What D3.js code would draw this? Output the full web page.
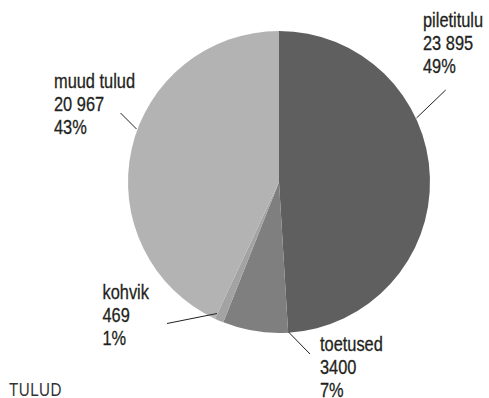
<!DOCTYPE html>
<html>
<head>
<meta charset="utf-8">
<script src="https://cdn.jsdelivr.net/npm/d3@7"></script>
<style>
  html, body { margin: 0; padding: 0; background: #fff; }
  svg { display: block; }
  text { font-family: "Liberation Sans", Arial, sans-serif; fill: #231f20; stroke: #231f20; stroke-width: 0.3; }
</style>
</head>
<body>
<svg id="chart" width="489" height="398"></svg>
<script>
// Revenue categories and amounts (clockwise from 12 o'clock)
const categories = ["piletitulu", "toetused", "kohvik", "muud tulud"];
const values = [23895, 3400, 469, 20967];
const valueLabels = ["23 895", "3400", "469", "20 967"];
const percentLabels = ["49%", "7%", "1%", "43%"];
const colors = ["#5f5f5f", "#7f7f7f", "#a3a3a3", "#b3b3b3"];
const title = "TULUD";

const svg = d3.select("#chart");
const cx = 279, cy = 182, radius = 151;
const narrow = 0.82; // horizontal squeeze for a condensed look

const pie = d3.pie().sort(null).value(d => d.value);
const arcs = pie(categories.map((c, i) => ({ name: c, value: values[i], i })));
const arc = d3.arc().innerRadius(0).outerRadius(radius);

const g = svg.append("g").attr("transform", `translate(${cx},${cy})`);
g.selectAll("path.slice")
  .data(arcs)
  .join("path")
  .attr("class", "slice")
  .attr("d", arc)
  .attr("fill", d => colors[d.data.i]);

// Label block placement and leader line (outer point near text, inner point at slice edge)
const labelPos = [
  { x: 423, y: 27, lead: [[445.7, 90], [416.5, 118]] },
  { x: 320, y: 350.5, lead: [[310, 354], [288.5, 332]] },
  { x: 102.5, y: 298.5, lead: [[167, 323.5], [217, 313.5]] },
  { x: 54, y: 88, lead: [[120.5, 113], [136.5, 129]] }
];

const lineH = 23.2;
arcs.forEach(a => {
  const p = labelPos[a.data.i];
  svg.append("line")
    .attr("x1", p.lead[0][0]).attr("y1", p.lead[0][1])
    .attr("x2", p.lead[1][0]).attr("y2", p.lead[1][1])
    .attr("stroke", "#231f20").attr("stroke-width", 1);
  const t = svg.append("text")
    .attr("transform", `translate(${p.x},${p.y}) scale(${narrow},1)`)
    .attr("font-size", 20);
  [a.data.name, valueLabels[a.data.i], percentLabels[a.data.i]].forEach((s, j) => {
    t.append("tspan").attr("x", 0).attr("y", j * lineH).text(s);
  });
});

svg.append("text")
  .attr("transform", `translate(9,396) scale(${narrow},1)`)
  .attr("font-size", 18.5)
  .attr("letter-spacing", 0.6)
  .style("fill", "#333")
  .style("stroke", "none")
  .text(title);
</script>
</body>
</html>
